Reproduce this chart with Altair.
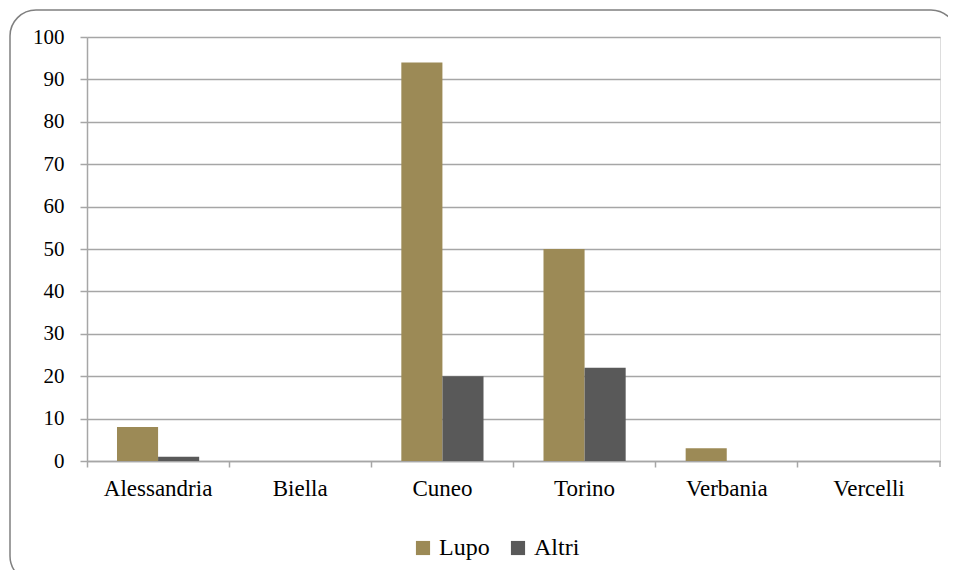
import altair as alt
import pandas as pd

provinces = ["Alessandria", "Biella", "Cuneo", "Torino", "Verbania", "Vercelli"]
lupo = [8, 0, 94, 50, 3, 0]
altri = [1, 0, 20, 22, 0, 0]
series = ["Lupo", "Altri"]
colors = ["#9c8a56", "#595959"]
y_ticks = list(range(0, 101, 10))

rows = []
for i, p in enumerate(provinces):
    rows.append({"provincia": p, "specie": "Lupo", "valore": lupo[i]})
    rows.append({"provincia": p, "specie": "Altri", "valore": altri[i]})
df = pd.DataFrame(rows)

FONT = "'Liberation Serif', 'DejaVu Serif', serif"
GRID = "#a6a6a6"
W, H = 853, 424

bars = alt.Chart(df).mark_bar().encode(
    x=alt.X(
        "provincia:N",
        sort=provinces,
        scale=alt.Scale(paddingInner=0, paddingOuter=0),
        axis=alt.Axis(
            title=None, labelAngle=0, bandPosition=0,
            tickSize=6, tickColor=GRID, tickWidth=1.5,
            domainColor=GRID, domainWidth=1.5,
            labelPadding=10, labelFontSize=23, labelFont=FONT, labelColor="#000000",
            grid=False,
        ),
    ),
    xOffset=alt.XOffset("specie:N", sort=series,
                        scale=alt.Scale(domain=series, paddingInner=0, paddingOuter=0.73)),
    y=alt.Y(
        "valore:Q",
        scale=alt.Scale(domain=[0, 100], nice=False),
        axis=alt.Axis(
            title=None, values=y_ticks, grid=True, gridColor=GRID, gridWidth=1.5,
            tickSize=7, tickColor=GRID, tickWidth=1.5,
            domainColor=GRID, domainWidth=1.5,
            labelPadding=16, labelFontSize=21, labelFont=FONT, labelColor="#000000",
        ),
    ),
    color=alt.Color(
        "specie:N",
        sort=series,
        scale=alt.Scale(domain=series, range=colors),
        legend=alt.Legend(
            title=None, orient="none", direction="horizontal",
            legendX=324, legendY=499,
            symbolType="square", symbolSize=200, symbolStrokeWidth=0,
            labelFont=FONT, labelFontSize=24, labelColor="#000000",
            labelOffset=4, columnPadding=16,
        ),
    ),
)

one = pd.DataFrame({"a": [0]})
frame = alt.Chart(one).mark_rect(
    filled=False, stroke="#808080", strokeWidth=1.5, cornerRadius=26
).encode(
    x=alt.value(-77), x2=alt.value(870), y=alt.value(-27), y2=alt.value(545)
)
end_tick = alt.Chart(one).mark_rule(color=GRID, strokeWidth=1.5).encode(
    x=alt.value(W), y=alt.value(H), y2=alt.value(H + 6)
)

chart = alt.layer(frame, bars, end_tick).properties(
    width=W, height=H,
    autosize=alt.AutoSizeParams(type="none"),
    padding={"left": 79, "top": 29, "right": 8, "bottom": 109},
    background="#ffffff",
).configure_view(stroke=None).configure(font=FONT)

chart.save("out.html", embed_options={"renderer": "svg", "actions": False})
